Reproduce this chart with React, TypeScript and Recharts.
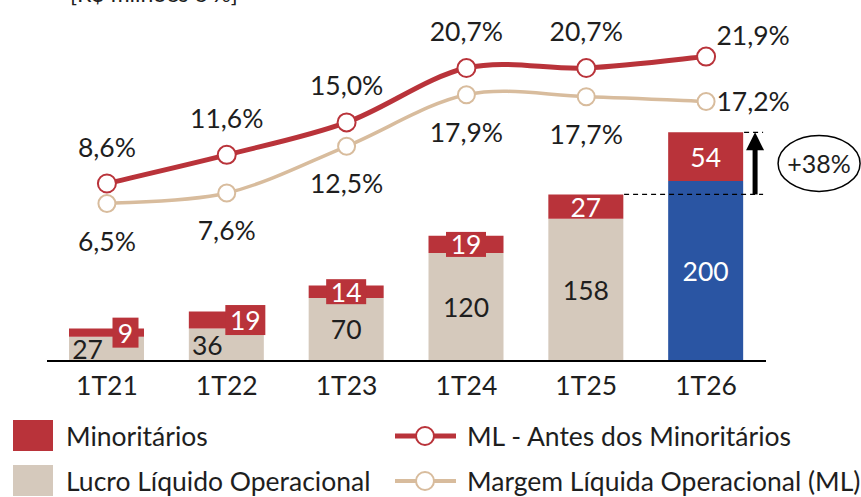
import React from 'react';
import {
  ComposedChart,
  Bar,
  Line,
  XAxis,
  YAxis,
  Cell,
  LabelList,
  ReferenceLine,
} from 'recharts';

const quarters = ['1T21', '1T22', '1T23', '1T24', '1T25', '1T26'];
const lucroOperacional = [27, 36, 70, 120, 158, 200];
const minoritarios = [9, 19, 14, 19, 27, 54];
const mlAntesMinoritarios = [8.6, 11.6, 15.0, 20.7, 20.7, 21.9];
const margemOperacional = [6.5, 7.6, 12.5, 17.9, 17.7, 17.2];
const crescimento = '+38%';

const RED = '#B9333A';
const BEIGE = '#D5C9BC';
const BEIGE_LINE = '#D8BC9D';
const BLUE = '#2A55A3';
const FONT = 'Lato, "Open Sans", sans-serif';
const FS = 26.5;
const FW = 400;
const INK = '#1e1e1e';

const data = quarters.map((q, i) => ({
  q,
  lucro: lucroOperacional[i],
  mino: minoritarios[i],
  ml: mlAntesMinoritarios[i],
  margem: margemOperacional[i],
}));

const fmtPct = (v: number) => v.toFixed(1).replace('.', ',') + '%';

// Excel-like smooth line (Catmull-Rom)
const smoothCurve = (context: any) => {
  let pts: [number, number][] = [];
  return {
    areaStart() {},
    areaEnd() {},
    lineStart() {
      pts = [];
    },
    point(x: number, y: number) {
      pts.push([+x, +y]);
    },
    lineEnd() {
      if (!pts.length) return;
      context.moveTo(pts[0][0], pts[0][1]);
      for (let i = 0; i < pts.length - 1; i++) {
        const p0 = pts[i - 1] || pts[i];
        const p1 = pts[i];
        const p2 = pts[i + 1];
        const p3 = pts[i + 2] || p2;
        const t = 1 / 6;
        context.bezierCurveTo(
          p1[0] + (p2[0] - p0[0]) * t,
          p1[1] + (p2[1] - p0[1]) * t,
          p2[0] - (p3[0] - p1[0]) * t,
          p2[1] - (p3[1] - p1[1]) * t,
          p2[0],
          p2[1]
        );
      }
    },
  };
};

const LucroLabel = (props: any) => {
  const { x, y, width, height, index, value } = props;
  const dx = index < 2 ? -19 : 0;
  const last = index === quarters.length - 1;
  return (
    <text
      x={x + width / 2 + dx}
      y={y + height / 2}
      textAnchor="middle"
      dominantBaseline="central"
      fontFamily={FONT}
      fontSize={FS}
      fontWeight={FW}
      fill={last ? '#fff' : INK}
    >
      {value}
    </text>
  );
};

const MinoLabel = (props: any) => {
  const { x, y, width, height, index, value } = props;
  const cx = x + width / 2 + (index < 2 ? 19 : 0);
  const cy = y + height / 2;
  const boxed = index < 4;
  const w = String(value).length * 14 + 12;
  const h = index < 2 ? 30 : 25;
  return (
    <g>
      {boxed && <rect x={cx - w / 2} y={cy - h / 2} width={w} height={h} fill={RED} />}
      <text
        x={cx}
        y={cy}
        textAnchor="middle"
        dominantBaseline="central"
        fontFamily={FONT}
        fontSize={FS}
        fontWeight={FW}
        fill="#fff"
      >
        {value}
      </text>
    </g>
  );
};

const pctLabel = (below: boolean) => (props: any) => {
  const { x, y, index, value } = props;
  const last = index === quarters.length - 1;
  const tx = last ? x + 47 : x;
  const ty = last ? (below ? y : y - 22) : below ? y + 37 : y - 37;
  return (
    <text
      x={tx}
      y={ty}
      textAnchor="middle"
      dominantBaseline="central"
      fontFamily={FONT}
      fontSize={FS}
      fontWeight={FW}
      fill={INK}
    >
      {fmtPct(value)}
    </text>
  );
};

// arrow + dashed guides + ellipse around the growth figure
const GrowthMarker = (props: any) => {
  const { x1, y1, y2 } = props;
  const ax = x1 + 49;
  const ex = x1 + 113;
  const ey = (y1 + y2) / 2;
  return (
    <g>
      <line x1={x1 - 82} x2={x1 + 57} y1={y1} y2={y1} stroke="#000" strokeWidth={1.3} strokeDasharray="5 4" />
      <line x1={x1 + 38} x2={x1 + 57} y1={y2} y2={y2} stroke="#000" strokeWidth={1.3} strokeDasharray="5 4" />
      <line x1={ax} x2={ax} y1={y1} y2={y2 + 16} stroke="#000" strokeWidth={5} />
      <polygon points={`${ax - 9},${y2 + 18} ${ax + 9},${y2 + 18} ${ax},${y2}`} fill="#000" />
      <ellipse cx={ex} cy={ey} rx={41} ry={28} fill="#fff" stroke="#000" strokeWidth={1.5} />
      <text x={ex} y={ey} textAnchor="middle" dominantBaseline="central" fontFamily={FONT} fontSize={25} fontWeight={FW} fill={INK}>
        {crescimento}
      </text>
    </g>
  );
};

export default function App() {
  const lastQ = quarters[quarters.length - 1];
  const lastIdx = quarters.length - 1;
  const baseTotal = lucroOperacional[lastIdx - 1] + minoritarios[lastIdx - 1];
  const topTotal = lucroOperacional[lastIdx] + minoritarios[lastIdx];
  const legendText = { fontFamily: FONT, fontSize: FS, fontWeight: FW, fill: INK };

  return (
    <div style={{ position: 'absolute', left: 0, top: 0, width: 861, height: 497, overflow: 'hidden', background: '#fff' }}>
      <div
        style={{
          position: 'absolute',
          left: 70,
          top: -21,
          fontFamily: FONT,
          fontSize: 23,
          fontWeight: FW,
          color: INK,
          whiteSpace: 'nowrap',
        }}
      >
        [R$ milhões e %]
      </div>
      <ComposedChart
        width={861}
        height={400}
        data={data}
        margin={{ top: 27, right: 95, left: 47, bottom: 0 }}
      >
        <XAxis
          dataKey="q"
          axisLine={{ stroke: '#000', strokeWidth: 2 }}
          tickLine={false}
          height={39}
          tickMargin={9}
          tick={{ fill: INK, fontSize: FS, fontWeight: FW, fontFamily: FONT }}
        />
        <YAxis yAxisId="bars" hide domain={[0, 371]} />
        <YAxis yAxisId="pct" hide domain={[-10, 25]} />
        <Bar yAxisId="bars" dataKey="lucro" stackId="a" barSize={75} fill={BEIGE} isAnimationActive={false}>
          {data.map((d, i) => (
            <Cell key={d.q} fill={i === lastIdx ? BLUE : BEIGE} />
          ))}
          <LabelList dataKey="lucro" content={LucroLabel} />
        </Bar>
        <Bar yAxisId="bars" dataKey="mino" stackId="a" barSize={75} fill={RED} isAnimationActive={false}>
          <LabelList dataKey="mino" content={MinoLabel} />
        </Bar>
        <Line
          yAxisId="pct"
          dataKey="margem"
          type={smoothCurve as any}
          stroke={BEIGE_LINE}
          strokeWidth={3.5}
          dot={{ r: 8.5, fill: '#fff', stroke: BEIGE_LINE, strokeWidth: 2 }}
          isAnimationActive={false}
        >
          <LabelList dataKey="margem" content={pctLabel(true)} />
        </Line>
        <Line
          yAxisId="pct"
          dataKey="ml"
          type={smoothCurve as any}
          stroke={RED}
          strokeWidth={5}
          dot={{ r: 9, fill: '#fff', stroke: RED, strokeWidth: 2 }}
          isAnimationActive={false}
        >
          <LabelList dataKey="ml" content={pctLabel(false)} />
        </Line>
        <ReferenceLine
          yAxisId="bars"
          segment={[
            { x: lastQ, y: baseTotal },
            { x: lastQ, y: topTotal },
          ]}
          ifOverflow="visible"
          shape={GrowthMarker}
        />
      </ComposedChart>
      <svg width={861} height={97} style={{ position: 'absolute', left: 0, top: 400 }}>
        <rect x={13} y={20} width={40} height={31} fill={RED} />
        <text x={66} y={36} dominantBaseline="central" {...legendText}>
          Minoritários
        </text>
        <rect x={13} y={65} width={40} height={31} fill={BEIGE} />
        <text x={66} y={81} dominantBaseline="central" {...legendText}>
          Lucro Líquido Operacional
        </text>
        <line x1={395} x2={456} y1={36} y2={36} stroke={RED} strokeWidth={5} />
        <circle cx={425} cy={36} r={9} fill="#fff" stroke={RED} strokeWidth={2} />
        <text x={467} y={36} dominantBaseline="central" {...legendText}>
          ML - Antes dos Minoritários
        </text>
        <line x1={395} x2={456} y1={81} y2={81} stroke={BEIGE_LINE} strokeWidth={4} />
        <circle cx={425} cy={81} r={9} fill="#fff" stroke={BEIGE_LINE} strokeWidth={2} />
        <text x={467} y={81} dominantBaseline="central" {...legendText}>
          Margem Líquida Operacional (ML)
        </text>
      </svg>
    </div>
  );
}
